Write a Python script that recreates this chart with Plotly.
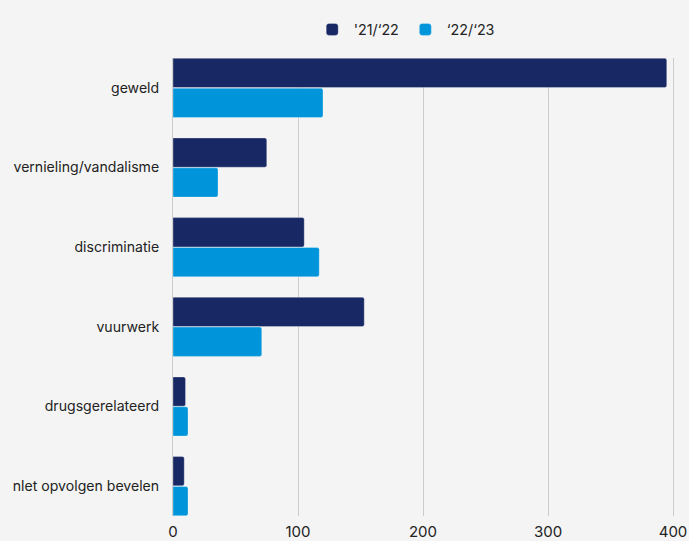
import plotly.graph_objects as go

categories = ["geweld", "vernieling/vandalisme", "discriminatie", "vuurwerk",
              "drugsgerelateerd", "nlet opvolgen bevelen"]
series_names = ["'21/‘22", "‘22/‘23"]
values_2122 = [395, 75, 105, 153, 10, 9]
values_2223 = [120, 36, 117, 71, 12, 12]
x_ticks = [0, 100, 200, 300, 400]

colors = ["#172864", "#0095da"]

fig = go.Figure()
for name, vals, col in zip(series_names, [values_2122, values_2223], colors):
    fig.add_trace(go.Bar(
        y=categories, x=vals, name=name, orientation="h",
        marker=dict(color=col, cornerradius=2, line=dict(color="rgba(255,255,255,0.5)", width=0.6)),
    ))

fig.update_layout(
    width=689, height=541,
    paper_bgcolor="#f4f4f4", plot_bgcolor="#f4f4f4",
    margin=dict(l=173, r=0, t=58, b=21),
    barmode="group", bargap=0.25, bargroupgap=0.02,
    font=dict(family="Inter, Roboto, sans-serif", size=14, color="#222222"),
    showlegend=True,
    legend=dict(orientation="h", x=0.45, xanchor="center", y=1.062, yanchor="middle",
                font=dict(size=14.3), itemwidth=33, tracegroupgap=0, bgcolor="rgba(0,0,0,0)"),
    xaxis=dict(range=[0, 412.8], tickvals=x_ticks, showgrid=True, gridcolor="#cccccc",
               gridwidth=1, zeroline=False, showline=False, ticks="",
               ticklabelstandoff=5, tickfont=dict(size=15)),
    yaxis=dict(range=[5.375, -0.375], showline=True, linecolor="#cccccc", linewidth=1,
               ticks="", ticklabelstandoff=10, tickfont=dict(size=14.1)),
)

fig.write_html("out.html", config={"displayModeBar": False},
               post_script="document.body.style.margin='0';")
